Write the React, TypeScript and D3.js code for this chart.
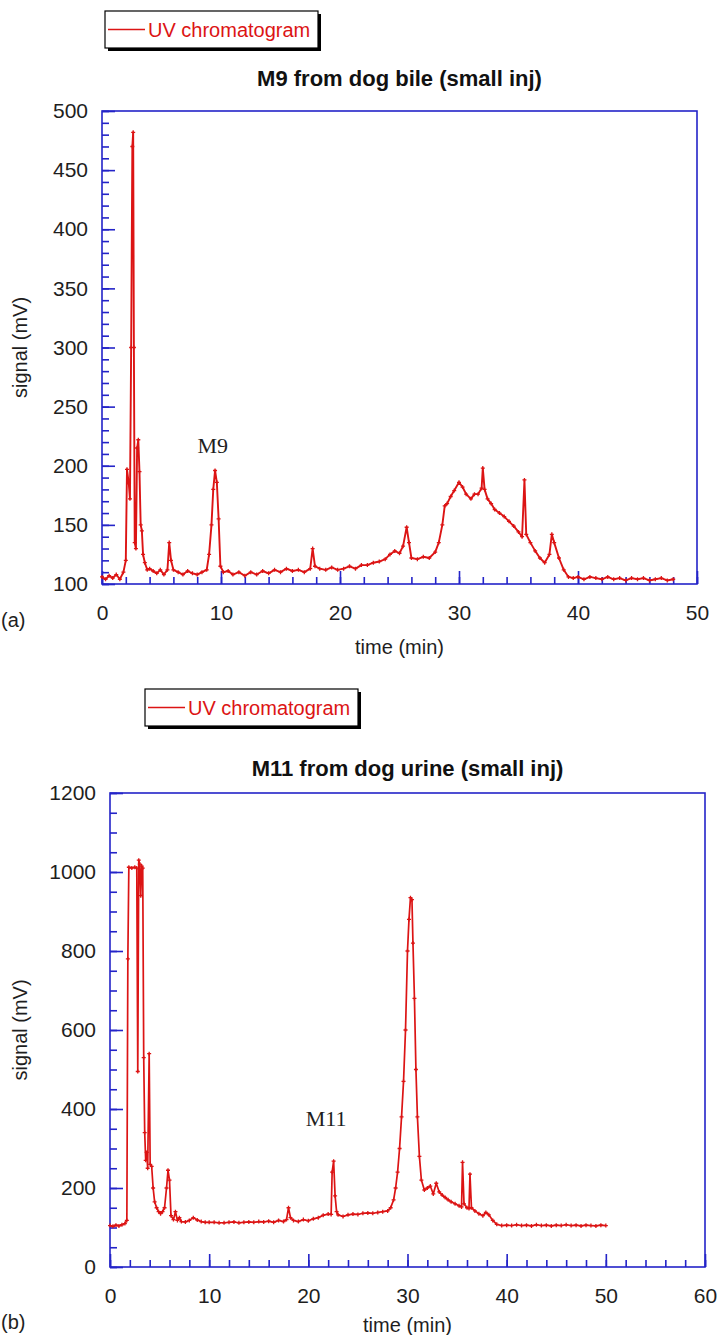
import React, { useEffect, useRef } from "react";
import * as d3 from "d3";

// chromatogram (a): M9 from dog bile
const timeA = [
  0, 0.3, 0.6, 0.9, 1.2, 1.5, 1.8, 2.0, 2.1, 2.25, 2.35, 2.45, 2.55, 2.62, 2.68, 2.75, 2.85, 2.95, 3.05, 3.15,
  3.25, 3.35, 3.45, 3.6, 3.8, 4.0, 4.3, 4.6, 4.9, 5.2, 5.5, 5.65, 5.8, 6.0, 6.4, 6.8, 7.2, 7.6, 8.0, 8.4,
  8.8, 9.0, 9.2, 9.35, 9.5, 9.65, 9.8, 9.95, 10.2, 10.6, 11.0, 11.5, 12.0, 12.5, 13.0, 13.5, 14.0, 14.5, 15.0, 15.5,
  16.0, 16.5, 17.0, 17.5, 17.7, 17.9, 18.3, 18.8, 19.3, 19.8, 20.3, 20.8, 21.3, 21.8, 22.3, 22.8, 23.3, 23.8, 24.2, 24.6,
  25.0, 25.3, 25.6, 25.8, 26.0, 26.5, 27.0, 27.5, 28.0, 28.3, 28.6, 28.8, 29.0, 29.3, 29.6, 30.0, 30.3, 30.6, 31.0, 31.3,
  31.6, 31.9, 32.0, 32.15, 32.4, 32.7, 33.0, 33.4, 33.8, 34.2, 34.6, 35.0, 35.3, 35.5, 35.65, 36.0, 36.4, 36.8, 37.2, 37.6,
  37.8, 38.0, 38.4, 38.8, 39.2, 39.6, 40.0, 40.5, 41.0, 41.5, 42.0, 42.5, 43.0, 43.5, 44.0, 44.5, 45.0, 45.5, 46.0, 46.5,
  47.0, 47.5, 48.0,
];
const signalA = [
  106, 104, 107, 105, 108, 104, 110, 120, 197, 185, 172, 300, 470, 482, 300, 135, 130, 215, 222, 195,
  150, 145, 125, 118, 112, 113, 111, 109, 112, 108, 112, 135, 120, 112, 110, 108, 111, 109, 108, 110,
  112, 125, 150, 180, 196, 186, 155, 115, 110, 111, 108, 110, 107, 110, 108, 111, 109, 112, 110, 113,
  111, 112, 110, 113, 130, 115, 113, 112, 114, 112, 113, 115, 113, 116, 116, 118, 119, 121, 125, 128,
  126, 132, 148, 135, 122, 121, 123, 122, 127, 135, 150, 166, 168, 174, 179, 186, 182, 176, 172, 176,
  176, 181, 198, 180, 172, 168, 163, 160, 157, 153, 149, 144, 140, 188, 142, 135, 128, 122, 118, 125,
  142, 135, 122, 112, 106, 105, 106, 104, 106, 105, 104, 106, 104, 105, 103, 105, 104, 105, 103, 104,
  105, 103, 104,
];

// chromatogram (b): M11 from dog urine
const timeB = [
  0, 0.3, 0.6, 0.9, 1.2, 1.5, 1.7, 1.8, 1.9, 2.2, 2.5, 2.7, 2.8, 2.9, 3.0, 3.1, 3.2, 3.3, 3.4, 3.5,
  3.6, 3.7, 3.8, 3.95, 4.05, 4.2, 4.35, 4.5, 4.7, 4.9, 5.1, 5.3, 5.5, 5.7, 5.85, 6.0, 6.15, 6.4, 6.6, 6.8,
  7.0, 7.2, 7.6, 8.0, 8.4, 8.8, 9.2, 9.6, 10.0, 10.5, 11.0, 11.5, 12.0, 12.5, 13.0, 13.5, 14.0, 14.5, 15.0, 15.5,
  16.0, 16.5, 17.0, 17.5, 17.8, 18.0, 18.2, 18.5, 19.0, 19.5, 20.0, 20.5, 21.0, 21.5, 22.0, 22.3, 22.4, 22.55, 22.7, 22.85,
  23.0, 23.5, 24.0, 24.5, 25.0, 25.5, 26.0, 26.5, 27.0, 27.5, 28.0, 28.3, 28.6, 28.8, 29.0, 29.2, 29.4, 29.6, 29.8, 30.0,
  30.15, 30.3, 30.45, 30.55, 30.7, 30.85, 31.0, 31.2, 31.4, 31.7, 32.0, 32.3, 32.6, 32.9, 33.2, 33.5, 33.8, 34.1, 34.4, 34.8,
  35.2, 35.45, 35.55, 35.7, 36.0, 36.2, 36.3, 36.45, 36.8, 37.2, 37.6, 37.9, 38.2, 38.6, 39.0, 39.5, 40.0, 40.5, 41.0, 41.5,
  42.0, 42.5, 43.0, 43.5, 44.0, 44.5, 45.0, 45.5, 46.0, 46.5, 47.0, 47.5, 48.0, 48.5, 49.0, 49.5, 50.0,
];
const signalB = [
  105, 103, 106, 104, 107, 110, 118, 780, 1012, 1010, 1012, 1010, 495, 1030, 1020, 940, 1015, 1010, 530, 340,
  270, 290, 250, 540, 260, 255, 200, 165, 150, 140, 135, 140, 150, 200, 245, 220, 130, 120, 140, 118,
  125, 115, 114, 118, 125, 119, 115, 113, 113, 113, 112, 112, 113, 114, 112, 113, 114, 113, 115, 114,
  116, 113, 118, 115, 120, 150, 125, 118, 115, 120, 117, 122, 125, 131, 134, 133, 240, 268, 180, 140,
  132, 128, 132, 134, 133, 136, 137, 136, 138, 140, 142, 150, 170, 200, 240, 300, 380, 470, 600, 800,
  880, 935, 930, 820, 680, 500, 380, 280, 220, 195, 200, 205, 185, 212, 190, 182, 176, 170, 165, 160,
  155, 152, 265, 160, 150, 148, 235, 150, 142, 135, 130, 138, 132, 118, 108, 105, 106, 105, 107, 105,
  106, 104, 107, 105, 106, 104, 106, 105, 107, 105, 106, 104, 106, 105, 104, 106, 105,
];

const xTicksA = [0, 10, 20, 30, 40, 50];
const yTicksA = [100, 150, 200, 250, 300, 350, 400, 450, 500];
const xTicksB = [0, 10, 20, 30, 40, 50, 60];
const yTicksB = [0, 200, 400, 600, 800, 1000, 1200];

const BLUE = "#2424c8";
const RED = "#dc1414";
const SANS = "'Liberation Sans', Arial, sans-serif";
const SERIF = "'Liberation Serif', 'Times New Roman', serif";

const panels = [
  {
    times: timeA, values: signalA, xTicks: xTicksA, yTicks: yTicksA,
    xMinor: 2, yMinor: 10, lineWidth: 1.9,
    left: 102, right: 697, top: 111, bottom: 584,
    title: "M9 from dog bile (small inj)", titleY: 78,
    legend: { x: 105, y: 11, w: 213, h: 37 },
    note: "M9", noteT: 9.3, noteV: 217,
    letter: "(a)", letterY: 620, xLabelY: 647,
  },
  {
    times: timeB, values: signalB, xTicks: xTicksB, yTicks: yTicksB,
    xMinor: 2, yMinor: 50, lineWidth: 1.7,
    left: 110, right: 705, top: 793, bottom: 1267,
    title: "M11 from dog urine (small inj)", titleY: 768,
    legend: { x: 145, y: 689, w: 213, h: 37 },
    note: "M11", noteT: 21.8, noteV: 375,
    letter: "(b)", letterY: 1322, xLabelY: 1325,
  },
];

function drawPanel(svg, p) {
  const xMax = p.xTicks[p.xTicks.length - 1];
  const yMin = p.yTicks[0];
  const yMax = p.yTicks[p.yTicks.length - 1];
  const x = d3.scaleLinear().domain([p.xTicks[0], xMax]).range([p.left, p.right]);
  const y = d3.scaleLinear().domain([yMin, yMax]).range([p.bottom, p.top]);
  const g = svg.append("g");

  // frame
  g.append("rect")
    .attr("x", p.left).attr("y", p.top)
    .attr("width", p.right - p.left).attr("height", p.bottom - p.top)
    .attr("fill", "none").attr("stroke", BLUE).attr("stroke-width", 1.6);

  const styleAxis = (sel) => {
    sel.select(".domain").remove();
    sel.selectAll(".tick line").attr("stroke", BLUE).attr("stroke-width", 1.6);
    sel.selectAll(".tick text")
      .attr("fill", "#1e1e1e")
      .style("font-family", SANS)
      .style("font-size", "21px");
  };

  // minor ticks
  const yMinorVals = d3.range(yMin, yMax + 0.001, p.yMinor);
  const xMinorVals = d3.range(p.xTicks[0], xMax + 0.001, p.xMinor);
  g.append("g").attr("transform", `translate(${p.left},0)`)
    .call(d3.axisLeft(y).tickValues(yMinorVals).tickSize(-7).tickFormat(() => ""))
    .call(styleAxis);
  g.append("g").attr("transform", `translate(0,${p.bottom})`)
    .call(d3.axisBottom(x).tickValues(xMinorVals).tickSize(-7).tickFormat(() => ""))
    .call(styleAxis);

  // major ticks + labels
  g.append("g").attr("transform", `translate(${p.left},0)`)
    .call(d3.axisLeft(y).tickValues(p.yTicks).tickSize(-13).tickPadding(14).tickFormat(d3.format("d")))
    .call(styleAxis);
  g.append("g").attr("transform", `translate(0,${p.bottom})`)
    .call(d3.axisBottom(x).tickValues(p.xTicks).tickSize(-13).tickPadding(21).tickFormat(d3.format("d")))
    .call(styleAxis);

  // trace
  const idx = d3.range(p.times.length);
  const line = d3.line()
    .x((i) => x(p.times[i]))
    .y((i) => y(p.values[i]));
  g.append("path")
    .datum(idx)
    .attr("d", line)
    .attr("fill", "none")
    .attr("stroke", RED)
    .attr("stroke-width", p.lineWidth)
    .attr("stroke-linejoin", "round");
  g.append("path")
    .attr("d", idx.map((i) => {
      const px = x(p.times[i]);
      const py = y(p.values[i]);
      return `M${px - 2},${py}h4M${px},${py - 2}v4`;
    }).join(""))
    .attr("stroke", RED)
    .attr("stroke-width", 1.3);

  // annotation
  g.append("text")
    .attr("x", x(p.noteT)).attr("y", y(p.noteV))
    .attr("text-anchor", "middle").attr("dominant-baseline", "central")
    .style("font-family", SERIF).style("font-size", "22px")
    .attr("fill", "#1e1e1e")
    .text(p.note);

  const midX = (p.left + p.right) / 2;
  const midY = (p.top + p.bottom) / 2;

  // title
  g.append("text")
    .attr("x", midX).attr("y", p.titleY)
    .attr("text-anchor", "middle").attr("dominant-baseline", "central")
    .style("font-family", SANS).style("font-size", "22px").style("font-weight", "bold")
    .attr("fill", "#111")
    .text(p.title);

  // axis titles
  g.append("text")
    .attr("transform", `translate(20,${midY}) rotate(-90)`)
    .attr("text-anchor", "middle").attr("dominant-baseline", "central")
    .style("font-family", SANS).style("font-size", "20px")
    .attr("fill", "#1e1e1e")
    .text("signal (mV)");
  g.append("text")
    .attr("x", midX).attr("y", p.xLabelY)
    .attr("text-anchor", "middle").attr("dominant-baseline", "central")
    .style("font-family", SANS).style("font-size", "20px")
    .attr("fill", "#1e1e1e")
    .text("time (min)");

  g.append("text")
    .attr("x", 1).attr("y", p.letterY)
    .attr("dominant-baseline", "central")
    .style("font-family", SANS).style("font-size", "20px")
    .attr("fill", "#1e1e1e")
    .text(p.letter);

  // legend box with drop shadow
  const L = p.legend;
  g.append("rect")
    .attr("x", L.x + 3).attr("y", L.y + 3).attr("width", L.w).attr("height", L.h)
    .attr("fill", "#000");
  g.append("rect")
    .attr("x", L.x).attr("y", L.y).attr("width", L.w).attr("height", L.h)
    .attr("fill", "#fff").attr("stroke", "#000").attr("stroke-width", 1.2);
  g.append("line")
    .attr("x1", L.x + 3).attr("x2", L.x + 40)
    .attr("y1", L.y + L.h / 2).attr("y2", L.y + L.h / 2)
    .attr("stroke", RED).attr("stroke-width", 1.6);
  g.append("text")
    .attr("x", L.x + 43).attr("y", L.y + L.h / 2)
    .attr("dominant-baseline", "central")
    .style("font-family", SANS).style("font-size", "20px")
    .attr("fill", RED)
    .text("UV chromatogram");
}

export default function App() {
  const svgRef = useRef(null);

  useEffect(() => {
    if (!svgRef.current) return;
    const svg = d3.select(svgRef.current);
    svg.selectAll("*").remove();
    panels.forEach((p) => drawPanel(svg, p));
  }, []);

  return (
    <svg
      ref={svgRef}
      width={717}
      height={1335}
      style={{ position: "absolute", left: 0, top: 0, background: "#fff" }}
    />
  );
}
